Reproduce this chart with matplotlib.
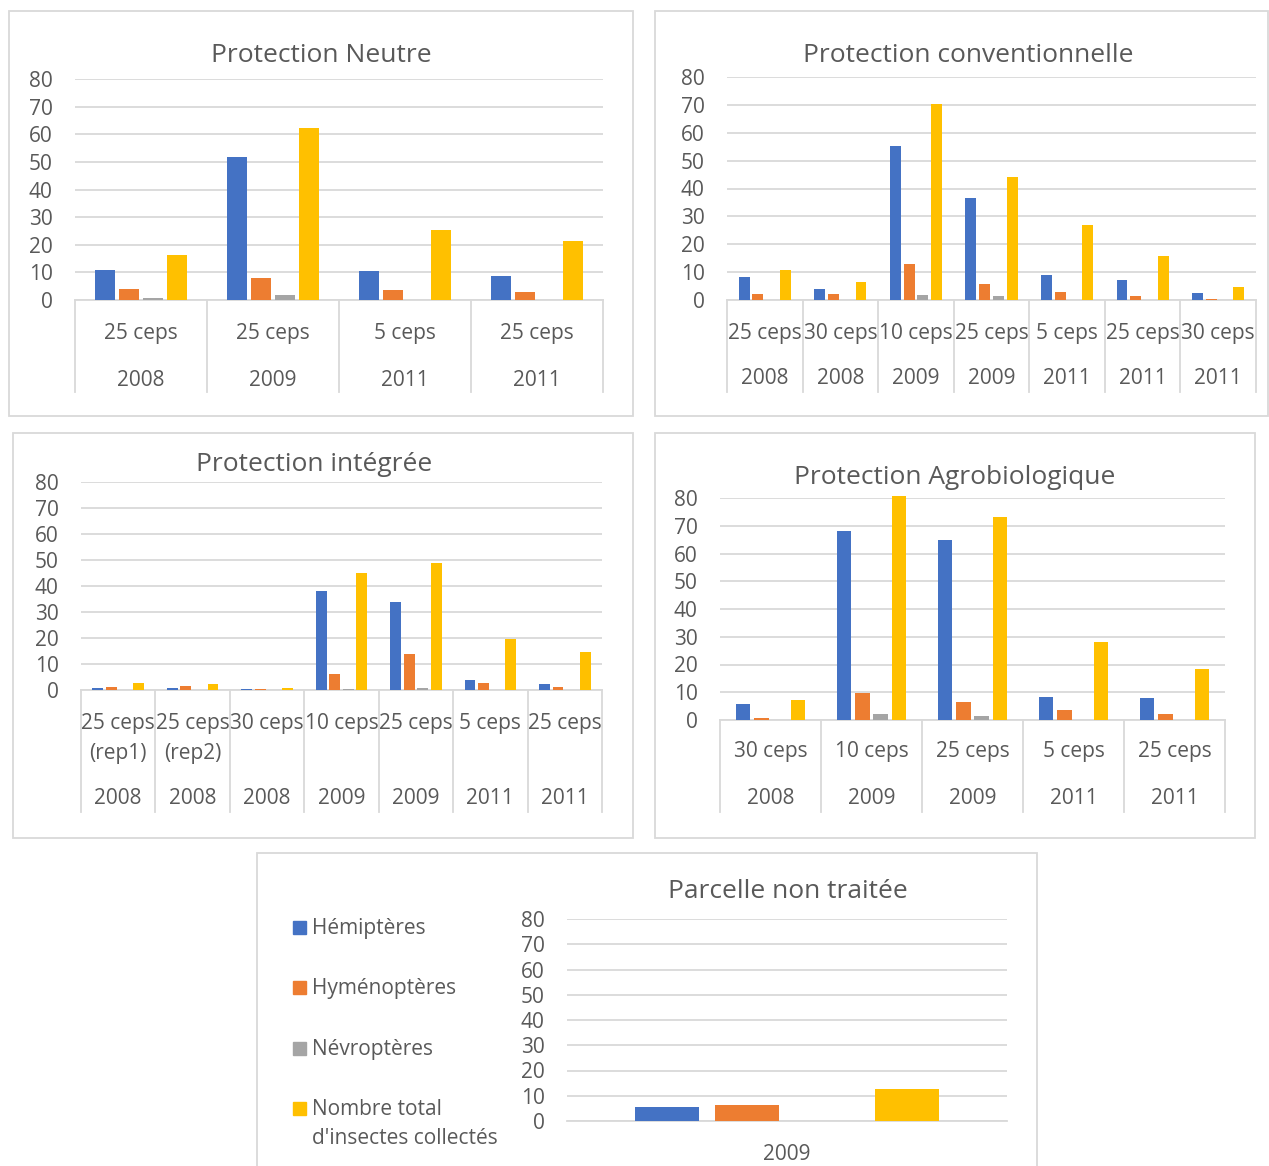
import matplotlib
matplotlib.use("Agg")
import matplotlib.pyplot as plt
from matplotlib.patches import Rectangle
from matplotlib.lines import Line2D
import numpy as np

plt.rcParams['font.family'] = ['Open Sans', 'DejaVu Sans']

series = ['Hémiptères', 'Hyménoptères', 'Névroptères', "Nombre total\nd'insectes collectés"]
colors = ['#4472C4', '#ED7D31', '#A5A5A5', '#FFC000']

# Protection Neutre
neutre_cat = ['25 ceps', '25 ceps', '5 ceps', '25 ceps']
neutre_year = ['2008', '2009', '2011', '2011']
neutre_hemi = [10.9, 51.6, 10.6, 8.7]
neutre_hymeno = [4.0, 8.1, 3.7, 2.8]
neutre_nevro = [0.7, 1.8, 0, 0]
neutre_total = [16.3, 62.1, 25.3, 21.5]

# Protection conventionnelle
conv_cat = ['25 ceps', '30 ceps', '10 ceps', '25 ceps', '5 ceps', '25 ceps', '30 ceps']
conv_year = ['2008', '2008', '2009', '2009', '2011', '2011', '2011']
conv_hemi = [8.3, 4.0, 55.3, 36.6, 9.1, 7.2, 2.5]
conv_hymeno = [2.3, 2.2, 12.9, 5.6, 2.9, 1.6, 0.5]
conv_nevro = [0, 0, 1.8, 1.4, 0, 0, 0]
conv_total = [10.8, 6.6, 70.4, 44.1, 26.9, 15.9, 4.7]

# Protection intégrée
integ_cat = ['25 ceps\n(rep1)', '25 ceps\n(rep2)', '30 ceps', '10 ceps', '25 ceps', '5 ceps', '25 ceps']
integ_year = ['2008', '2008', '2008', '2009', '2009', '2011', '2011']
integ_hemi = [0.9, 0.6, 0.5, 38.1, 33.7, 4.0, 2.4]
integ_hymeno = [1.3, 1.5, 0.5, 6.0, 13.7, 2.7, 1.3]
integ_nevro = [0, 0, 0, 0.5, 0.9, 0, 0]
integ_total = [2.6, 2.4, 0.9, 45.1, 48.7, 19.7, 14.6]

# Protection Agrobiologique
agro_cat = ['30 ceps', '10 ceps', '25 ceps', '5 ceps', '25 ceps']
agro_year = ['2008', '2009', '2009', '2011', '2011']
agro_hemi = [5.9, 68.2, 64.7, 8.2, 7.9]
agro_hymeno = [0.8, 9.8, 6.5, 3.5, 2.2]
agro_nevro = [0, 2.3, 1.6, 0, 0]
agro_total = [7.1, 80.6, 73.0, 28.2, 18.3]

# Parcelle non traitée
pnt_year = ['2009']
pnt_hemi = [5.5]
pnt_hymeno = [6.3]
pnt_nevro = [0.15]
pnt_total = [12.7]

W, H = 1269, 1166
fig = plt.figure(figsize=(W / 100, H / 100), dpi=100)

TXT = '#595959'
GRID = '#d9d9d9'
FS = 15


def px_ax(x0, ytop, x1, ybot):
    return fig.add_axes([x0 / W, 1 - ybot / H, (x1 - x0) / W, (ybot - ytop) / H])


def box(x0, y0, x1, y1):
    fig.add_artist(Rectangle((x0 / W, 1 - y1 / H), (x1 - x0) / W, (y1 - y0) / H,
                             transform=fig.transFigure, fill=False,
                             edgecolor=GRID, linewidth=1.3))


def label(ax, i, txt, off_px, line_px=30):
    # off_px: distance in pixels from the axis line to the baseline of the first line
    for j, line in enumerate(txt.split('\n')):
        ax.annotate(line, xy=(i, 0), xycoords=('data', 'axes fraction'),
                    xytext=(0, -(off_px + j * line_px) * 0.72), textcoords='offset points',
                    ha='center', va='baseline', fontsize=FS, color=TXT)


def draw_panel(ax, values, cats, years, row_offsets, sep_len, title, title_xy):
    n = len(years)
    x = np.arange(n)
    width, step = 0.145, 0.182
    for k, vals in enumerate(values):
        ax.bar(x + (k - 1.5) * step, vals, width, color=colors[k], clip_on=False, zorder=3)
    ax.set_xlim(-0.5, n - 0.5)
    ax.set_ylim(0, 80)
    ax.set_yticks(range(0, 81, 10))
    ax.yaxis.grid(True, color=GRID, linewidth=1.3)
    ax.set_axisbelow(True)
    for s in ['top', 'right', 'left']:
        ax.spines[s].set_visible(False)
    ax.spines['bottom'].set_color(GRID)
    ax.spines['bottom'].set_linewidth(1.3)
    ax.tick_params(axis='y', length=0, pad=16, labelsize=15, labelcolor=TXT)
    ax.set_xticks([])
    ax_h = ax.get_position().height * H
    for i in range(n):
        if cats is not None:
            label(ax, i, cats[i], row_offsets[0])
        label(ax, i, years[i], row_offsets[1])
    if cats is not None:
        for b in range(n + 1):
            ax.add_line(Line2D([b - 0.5, b - 0.5], [0, -sep_len / ax_h],
                               transform=ax.get_xaxis_transform(), color=GRID,
                               linewidth=1.3, clip_on=False))
    fig.text(title_xy[0] / W, 1 - title_xy[1] / H, title, ha='center', va='center_baseline',
             fontsize=19, color=TXT)


box(9, 11, 633, 416)
box(655, 11, 1268, 416)
box(13, 433, 633, 838)
box(655, 433, 1255, 838)
box(257, 853, 1037, 1170)

ax1 = px_ax(75, 79, 603, 300)
draw_panel(ax1, [neutre_hemi, neutre_hymeno, neutre_nevro, neutre_total],
           neutre_cat, neutre_year, (38.5, 85.5), 92, 'Protection Neutre', (321, 52))

ax2 = px_ax(727, 77, 1256, 300)
draw_panel(ax2, [conv_hemi, conv_hymeno, conv_nevro, conv_total],
           conv_cat, conv_year, (38.5, 84.5), 92, 'Protection conventionnelle', (968, 52))

ax3 = px_ax(81, 482, 602, 690)
draw_panel(ax3, [integ_hemi, integ_hymeno, integ_nevro, integ_total],
           integ_cat, integ_year, (38.5, 114.5), 122, 'Protection intégrée', (314, 461))

ax4 = px_ax(720, 498, 1225, 720)
draw_panel(ax4, [agro_hemi, agro_hymeno, agro_nevro, agro_total],
           agro_cat, agro_year, (37.5, 84.5), 92, 'Protection Agrobiologique', (955, 474))

ax5 = px_ax(567, 919, 1007, 1121)
draw_panel(ax5, [pnt_hemi, pnt_hymeno, pnt_nevro, pnt_total],
           None, pnt_year, (0, 38.5), 0, 'Parcelle non traitée', (788, 889))

# legend of the last panel
leg_y = [927, 987, 1048, 1108]
for k, lab in enumerate(series):
    fig.add_artist(Rectangle((293 / W, 1 - (leg_y[k] + 6.5) / H), 13 / W, 13 / H,
                             transform=fig.transFigure, color=colors[k]))
    for j, line in enumerate(lab.split('\n')):
        fig.text(312 / W, 1 - (leg_y[k] + 7.4 + j * 29) / H, line, ha='left', va='baseline',
                 fontsize=FS, color=TXT)

fig.savefig('out.png', dpi=100, facecolor='white')
